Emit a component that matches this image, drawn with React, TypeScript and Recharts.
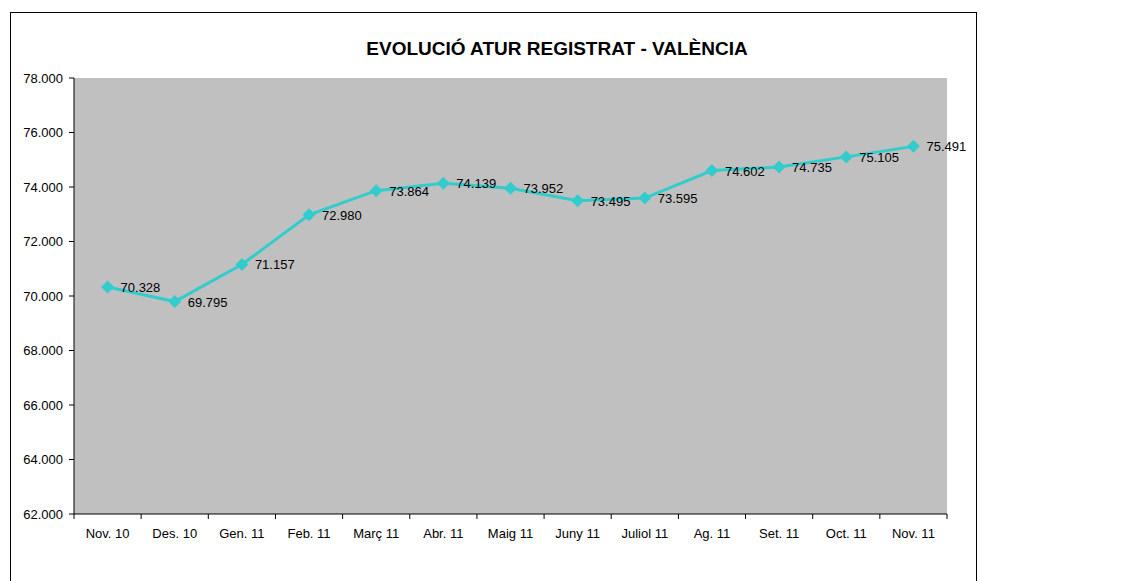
import React from "react";
import {
  LineChart,
  Line,
  XAxis,
  YAxis,
  CartesianGrid,
  LabelList,
} from "recharts";

const months = [
  "Nov. 10",
  "Des. 10",
  "Gen. 11",
  "Feb. 11",
  "Març 11",
  "Abr. 11",
  "Maig 11",
  "Juny 11",
  "Juliol 11",
  "Ag. 11",
  "Set. 11",
  "Oct. 11",
  "Nov. 11",
];
const atur = [
  70328, 69795, 71157, 72980, 73864, 74139, 73952, 73495, 73595, 74602, 74735,
  75105, 75491,
];
const yTicks = [62000, 64000, 66000, 68000, 70000, 72000, 74000, 76000, 78000];

const title = "EVOLUCIÓ ATUR REGISTRAT - VALÈNCIA";

const W = 1144;
const H = 581;
const PLOT_LEFT = 74;
const PLOT_RIGHT = 947;
const PLOT_TOP = 78;
const PLOT_BOTTOM = 514;
const BAND = (PLOT_RIGHT - PLOT_LEFT) / months.length;
const FONT = "'Liberation Sans', Arial, sans-serif";

const fmt = (v: number) =>
  Math.round(v)
    .toString()
    .replace(/\B(?=(\d{3})+(?!\d))/g, ".");

const chartData = months.map((m, i) => ({ month: m, atur: atur[i] }));

// tick label in the band centre, tick marks on the band edges
const MonthTick = ({ x, y, payload, index }: any) => {
  const left = x - BAND / 2;
  return (
    <g>
      <line x1={left} y1={y - 8} x2={left} y2={y - 3} stroke="#000" />
      {index === months.length - 1 && (
        <line x1={left + BAND} y1={y - 8} x2={left + BAND} y2={y - 3} stroke="#000" />
      )}
      <text
        x={x}
        y={y + 16}
        textAnchor="middle"
        fontSize={13}
        fontFamily={FONT}
        fill="#000"
      >
        {payload.value}
      </text>
    </g>
  );
};

const Diamond = ({ cx, cy }: any) => {
  if (cx == null || cy == null) return null;
  const r = 6.5;
  return (
    <polygon
      points={`${cx},${cy - r} ${cx + r},${cy} ${cx},${cy + r} ${cx - r},${cy}`}
      fill="#33CCCC"
    />
  );
};

const ValueLabel = ({ x, y, value }: any) => (
  <text
    x={x + 13}
    y={y + 5}
    fontSize={13}
    fontFamily={FONT}
    fill="#000"
  >
    {fmt(value)}
  </text>
);

export default function App() {
  return (
    <div
      style={{
        position: "absolute",
        left: 0,
        top: 0,
        width: W,
        height: H,
        overflow: "hidden",
        background: "#fff",
      }}
    >
      <div
        style={{
          position: "absolute",
          left: 10,
          top: 12,
          width: 967,
          height: 600,
          border: "1px solid #000",
          boxSizing: "border-box",
        }}
      />
      <div
        style={{
          position: "absolute",
          left: 0,
          width: 1114,
          top: 38,
          textAlign: "center",
          fontFamily: FONT,
          fontWeight: "bold",
          fontSize: 19,
          color: "#000",
        }}
      >
        {title}
      </div>
      <div style={{ position: "absolute", left: 0, top: 0 }}>
        <LineChart
          width={W}
          height={H}
          data={chartData}
          margin={{
            top: PLOT_TOP,
            left: PLOT_LEFT - 60,
            right: W - PLOT_RIGHT,
            bottom: H - PLOT_BOTTOM - 30,
          }}
        >
          <CartesianGrid
            horizontal={false}
            vertical={false}
            fill="#C0C0C0"
          />
          <XAxis
            dataKey="month"
            height={30}
            padding={{ left: BAND / 2, right: BAND / 2 }}
            axisLine={{ stroke: "#000" }}
            tickLine={false}
            interval={0}
            tick={<MonthTick />}
          />
          <XAxis
            xAxisId="top"
            dataKey="month"
            orientation="top"
            height={0}
            axisLine={{ stroke: "#808080" }}
            tickLine={false}
            tick={false}
          />
          <YAxis
            width={60}
            domain={[62000, 78000]}
            ticks={yTicks}
            interval={0}
            tickFormatter={fmt}
            axisLine={{ stroke: "#000" }}
            tickLine={{ stroke: "#000" }}
            tickSize={5}
            tick={{ fontSize: 13, fontFamily: FONT, fill: "#000", dx: -4 }}
          />
          <YAxis
            yAxisId="right"
            orientation="right"
            width={0}
            domain={[62000, 78000]}
            axisLine={{ stroke: "#808080" }}
            tickLine={false}
            tick={false}
          />
          <Line
            dataKey="atur"
            stroke="#33CCCC"
            strokeWidth={3}
            dot={<Diamond />}
            activeDot={false}
            isAnimationActive={false}
          >
            <LabelList dataKey="atur" content={<ValueLabel />} />
          </Line>
        </LineChart>
      </div>
    </div>
  );
}
